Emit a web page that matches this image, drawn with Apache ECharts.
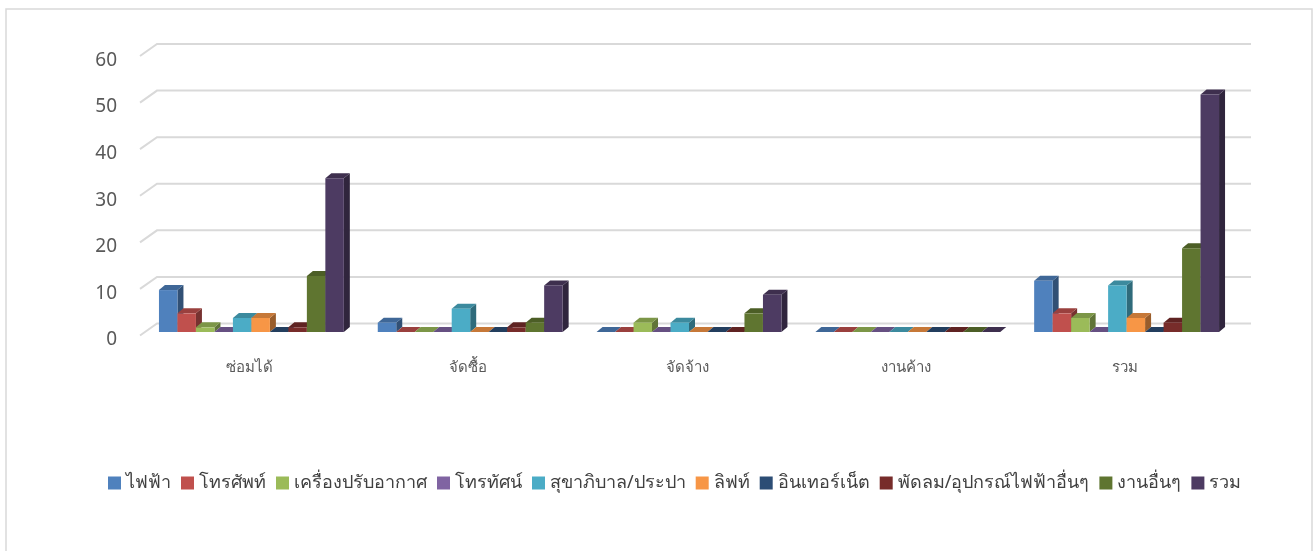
<!DOCTYPE html>
<html>
<head>
<meta charset="utf-8">
<script src="https://cdn.jsdelivr.net/npm/echarts@6/dist/echarts.min.js"></script>
<style>
html,body{margin:0;padding:0;background:#fff;}
#chart{width:1314px;height:551px;}
</style>
</head>
<body>
<div id="chart"></div>
<script>
const categories = ['ซ่อมได้', 'จัดซื้อ', 'จัดจ้าง', 'งานค้าง', 'รวม'];
const seriesNames = ['ไฟฟ้า', 'โทรศัพท์', 'เครื่องปรับอากาศ', 'โทรทัศน์', 'สุขาภิบาล/ประปา', 'ลิฟท์', 'อินเทอร์เน็ต', 'พัดลม/อุปกรณ์ไฟฟ้าอื่นๆ', 'งานอื่นๆ', 'รวม'];
const electric   = [9, 2, 0, 0, 11];
const phone      = [4, 0, 0, 0, 4];
const aircon     = [1, 0, 2, 0, 3];
const tv         = [0, 0, 0, 0, 0];
const plumbing   = [3, 5, 2, 0, 10];
const lift       = [3, 0, 0, 0, 3];
const internet   = [0, 0, 0, 0, 0];
const fanOther   = [1, 1, 0, 0, 2];
const otherWork  = [12, 2, 4, 0, 18];
const total      = [33, 10, 8, 0, 51];
const yTicks = [0, 10, 20, 30, 40, 50, 60];
const colors = ['#4F81BD', '#C0504D', '#9BBB59', '#8064A2', '#4BACC6', '#F79646', '#2C4D75', '#772C2A', '#5F7530', '#4D3B62'];

const seriesValues = [electric, phone, aircon, tv, plumbing, lift, internet, fanOther, otherWork, total];

function shade(hex, f) {
  const n = parseInt(hex.slice(1), 16);
  const r = Math.round(((n >> 16) & 255) * f), g = Math.round(((n >> 8) & 255) * f), b = Math.round((n & 255) * f);
  return 'rgb(' + r + ',' + g + ',' + b + ')';
}

const DX = 17, DY = -12;      // floor depth
const BDX = 6, BDY = -5;      // bar depth
const NB = seriesValues.length;

function makeBar(k) {
  return function (params, api) {
    const ci = api.value(0), v = api.value(1);
    const base = api.coord([ci, 0]);
    const top = api.coord([ci, v]);
    const band = api.size([1, 0])[0];
    const bw = band * 0.0845;
    const x0 = base[0] + 2 - NB * bw / 2 + k * bw;
    const y0 = base[1] - 3.5;
    const y1 = top[1] - 3.5;
    const c = colors[k];
    return {
      type: 'group',
      children: [
        { type: 'polygon', shape: { points: [[x0 + bw, y0], [x0 + bw, y1], [x0 + bw + BDX, y1 + BDY], [x0 + bw + BDX, y0 + BDY]] }, style: { fill: shade(c, 0.62) } },
        { type: 'polygon', shape: { points: [[x0, y1], [x0 + bw, y1], [x0 + bw + BDX, y1 + BDY], [x0 + BDX, y1 + BDY]] }, style: { fill: shade(c, 0.8) } },
        { type: 'rect', shape: { x: x0, y: y1, width: bw, height: y0 - y1 }, style: { fill: c } }
      ]
    };
  };
}

const series = [{
  type: 'custom',
  name: '_grid',
  silent: true,
  z: 1,
  data: yTicks.map(t => [0, t]),
  renderItem: function (params, api) {
    const p = api.coord([0, api.value(1)]);
    const xl = params.coordSys.x, xr = params.coordSys.x + params.coordSys.width;
    return {
      type: 'polyline',
      shape: { points: [[xl, p[1]], [xl + DX, p[1] + DY], [xr + DX, p[1] + DY]] },
      style: { stroke: '#d9d9d9', lineWidth: 2, fill: null }
    };
  }
}];
seriesValues.forEach((vals, k) => {
  series.push({
    type: 'custom',
    name: seriesNames[k],
    z: 2,
    itemStyle: { color: colors[k] },
    data: vals.map((v, i) => [i, v]),
    renderItem: makeBar(k)
  });
});

const chart = echarts.init(document.getElementById('chart'), null, { renderer: 'canvas' });
chart.setOption({
  animation: false,
  textStyle: { fontFamily: 'Tahoma, "Noto Sans", "DejaVu Sans", sans-serif' },
  graphic: [{
    type: 'rect',
    shape: { x: 6, y: 9, width: 1306, height: 560 },
    style: { fill: null, stroke: '#d9d9d9', lineWidth: 1.5 },
    silent: true
  }],
  grid: { left: 140, right: 80, top: 56, bottom: 215.5 },
  xAxis: {
    type: 'category',
    data: categories,
    axisLine: { show: false },
    axisTick: { show: false },
    axisLabel: { fontSize: 15, color: '#595959', margin: 25 }
  },
  yAxis: {
    type: 'value',
    min: 0, max: 60, interval: 10,
    axisLine: { show: false },
    axisTick: { show: false },
    splitLine: { show: false },
    axisLabel: {
      margin: 23,
      formatter: '{a|{value}}',
      rich: { a: { fontSize: 19, color: '#595959', padding: [9, 0, 0, 0] } }
    }
  },
  legend: {
    data: seriesNames,
    left: 103,
    top: 469,
    icon: 'rect',
    itemWidth: 13,
    itemHeight: 13,
    itemGap: 10,
    textStyle: { fontSize: 18, color: '#404040' }
  },
  series: series
});
</script>
</body>
</html>
